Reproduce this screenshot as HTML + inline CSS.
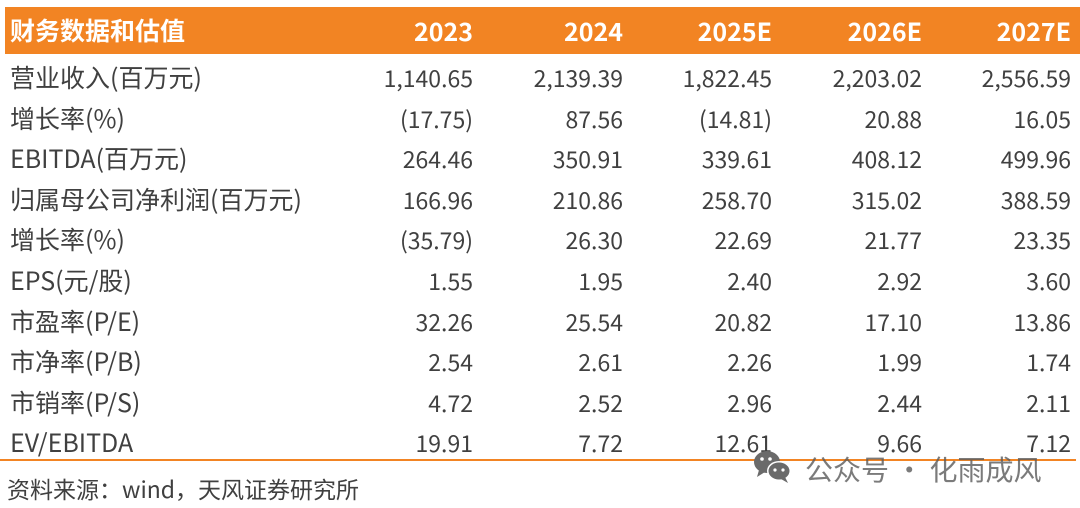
<!DOCTYPE html>
<html><head><meta charset="utf-8"><style>
body{margin:0;width:1080px;height:508px;background:#fff;position:relative;overflow:hidden;font-family:"Noto Sans CJK SC","Liberation Sans",sans-serif;color:#404040}
.hdr{position:absolute;left:5px;top:7px;width:1075px;height:47px;background:#f28423}
.t{position:absolute;font-size:23px;white-space:nowrap;line-height:1}
.l{font-size:25px}
.h{color:#fff;font-weight:bold;font-size:25px}
.r{text-align:right}
.line{position:absolute;left:0;top:459px;width:1076px;height:2px;background:#f28423}
.wm{position:absolute;left:805px;top:449px;font-size:28px;color:rgba(90,90,90,.8)}
</style></head><body>
<div class="hdr"></div>
<div class="t h" style="left:10px;top:18px">财务数据和估值</div>
<div id="c"></div>
<div class="line"></div>
<div class="t" style="left:7px;top:477px;font-size:23px">资料来源：wind，天风证券研究所</div>
<svg style="position:absolute;left:752px;top:449px" width="42" height="36"><ellipse cx="15" cy="13" rx="13" ry="11" fill="#6a6a6a"/><path d="M7 21 L5 28 L13 23Z" fill="#6a6a6a"/><ellipse cx="27" cy="22" rx="12" ry="10" fill="#fff"/><ellipse cx="27" cy="22" rx="10.5" ry="8.5" fill="#6a6a6a"/><path d="M33 28 L36 34 L29 30Z" fill="#6a6a6a"/><circle cx="10" cy="10" r="1.8" fill="#fff"/><circle cx="18" cy="10" r="1.8" fill="#fff"/><circle cx="23" cy="21" r="1.6" fill="#fff"/><circle cx="31" cy="21" r="1.6" fill="#fff"/></svg>
<div class="wm">公众号 · 化雨成风</div>
<script>
var rows=[["营业收入(百万元)","1,140.65","2,139.39","1,822.45","2,203.02","2,556.59"],
["增长率(%)","(17.75)","87.56","(14.81)","20.88","16.05"],
["EBITDA(百万元)","264.46","350.91","339.61","408.12","499.96"],
["归属母公司净利润(百万元)","166.96","210.86","258.70","315.02","388.59"],
["增长率(%)","(35.79)","26.30","22.69","21.77","23.35"],
["EPS(元/股)","1.55","1.95","2.40","2.92","3.60"],
["市盈率(P/E)","32.26","25.54","20.82","17.10","13.86"],
["市净率(P/B)","2.54","2.61","2.26","1.99","1.74"],
["市销率(P/S)","4.72","2.52","2.96","2.44","2.11"],
["EV/EBITDA","19.91","7.72","12.61","9.66","7.12"]];
var R=[473,623,772,922,1071],h="",hd=["2023","2024","2025E","2026E","2027E"];
hd.forEach(function(v,i){h+='<div class="t h r" style="right:'+(1080-R[i])+'px;top:19px">'+v+'</div>'});
rows.forEach(function(r,j){var y=66+j*40.6;h+='<div class="t l" style="left:10px;top:'+(y-1)+'px">'+r[0]+'</div>';
for(var i=1;i<6;i++)h+='<div class="t r" style="right:'+(1080-R[i-1])+'px;top:'+y+'px">'+r[i]+'</div>'});
document.getElementById('c').innerHTML=h;
</script>
</body></html>
